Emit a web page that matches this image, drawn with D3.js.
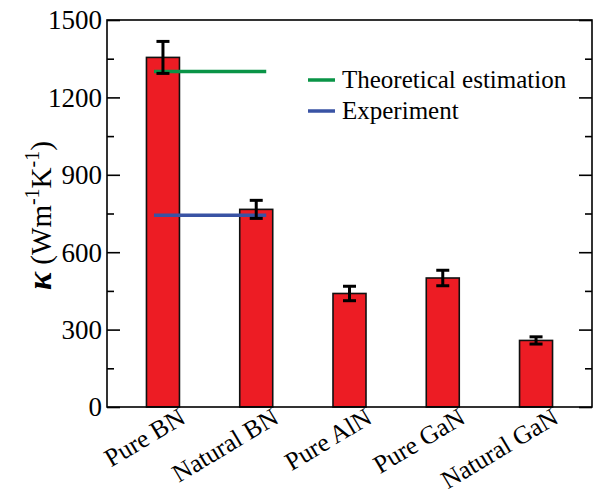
<!DOCTYPE html>
<html><head><meta charset="utf-8">
<script src="https://cdn.jsdelivr.net/npm/d3@7"></script>
<style>body{margin:0;background:#fff}svg{display:block}</style>
</head><body>
<svg id="c" width="598" height="497"></svg>
<script>
const categories = ["Pure BN","Natural BN","Pure AlN","Pure GaN","Natural GaN"];
const kappa = [1355, 766, 440, 500, 258];
const kappaErr = [62, 35, 28, 30, 14];
const theoretical = 1300;
const experiment = 743;
const yTicks = [0,300,600,900,1200,1500];
const yMinorTicks = [150,450,750,1050,1350];
const legendLabels = ["Theoretical estimation","Experiment"];

const font = "Liberation Serif, Times New Roman, serif";
const svg = d3.select("#c");
const L=107, R=592, T=20, B=407;
const x = d3.scalePoint().domain(categories).range([L,R]).padding(0.6);
const y = d3.scaleLinear().domain([0,1500]).range([B,T]);
const bw = 33;

// bars
svg.selectAll("rect.bar").data(categories).enter().append("rect")
  .attr("x", d=>x(d)-bw/2).attr("width", bw)
  .attr("y", (d,i)=>y(kappa[i])).attr("height",(d,i)=>y(0)-y(kappa[i]))
  .attr("fill","#ED1C24").attr("stroke","#111").attr("stroke-width",1.6);

// reference lines
const x0 = x(categories[0])-9, x1 = x(categories[1])+10;
svg.append("line").attr("x1",x0).attr("x2",x1).attr("y1",y(theoretical)).attr("y2",y(theoretical))
  .attr("stroke","#0A9447").attr("stroke-width",3.5);
svg.append("line").attr("x1",x0).attr("x2",x1).attr("y1",y(experiment)).attr("y2",y(experiment))
  .attr("stroke","#3953A4").attr("stroke-width",3.5);

// error bars
const eg = svg.append("g").attr("stroke","#000").attr("stroke-width",3);
categories.forEach((c,i)=>{
  const cx = x(c), hi=y(kappa[i]+kappaErr[i]), lo=y(kappa[i]-kappaErr[i]);
  eg.append("line").attr("x1",cx).attr("x2",cx).attr("y1",hi).attr("y2",lo);
  eg.append("line").attr("x1",cx-6.5).attr("x2",cx+6.5).attr("y1",hi).attr("y2",hi);
  eg.append("line").attr("x1",cx-6.5).attr("x2",cx+6.5).attr("y1",lo).attr("y2",lo);
});

// frame
svg.append("rect").attr("x",L).attr("y",T).attr("width",R-L).attr("height",B-T)
  .attr("fill","none").attr("stroke","#000").attr("stroke-width",1.6);

// y axis (ticks inward)
const gl = svg.append("g").attr("transform",`translate(${L},0)`).call(d3.axisRight(y).tickValues(yTicks).tickSize(13).tickFormat(""));
const gl2 = svg.append("g").attr("transform",`translate(${L},0)`).call(d3.axisRight(y).tickValues(yMinorTicks).tickSize(7).tickFormat(""));
const gr = svg.append("g").attr("transform",`translate(${R},0)`).call(d3.axisLeft(y).tickValues(yTicks).tickSize(13).tickFormat(""));
const gr2 = svg.append("g").attr("transform",`translate(${R},0)`).call(d3.axisLeft(y).tickValues(yMinorTicks).tickSize(7).tickFormat(""));
[gl,gl2,gr,gr2].forEach(g=>{g.select(".domain").remove();g.selectAll("line").attr("stroke","#000").attr("stroke-width",1.6);});

// y tick labels
svg.append("g").selectAll("text").data(yTicks).enter().append("text")
  .attr("x",L-5).attr("y",d=>y(d)).attr("dy","0.35em").attr("text-anchor","end")
  .attr("font-family",font).attr("font-size",27).text(d=>d);

// x labels
svg.append("g").selectAll("text").data(categories).enter().append("text")
  .attr("transform",d=>`translate(${x(d)+24},422) rotate(-31)`)
  .attr("text-anchor","end").attr("font-family",font).attr("font-size",25.5).text(d=>d);

// y label
const yl = svg.append("text").attr("transform",`translate(51,${(T+B)/2+2}) rotate(-90)`)
  .attr("text-anchor","middle").attr("font-family",font).attr("font-size",29);
yl.append("tspan").attr("font-style","italic").attr("font-weight","bold").attr("font-size",34).text("κ");
yl.append("tspan").text(" (Wm");
yl.append("tspan").attr("font-size",20).attr("dy",-12).text("-1");
yl.append("tspan").attr("dy",12).text("K");
yl.append("tspan").attr("font-size",20).attr("dy",-12).text("-1");
yl.append("tspan").attr("dy",12).text(")");

// legend
const legColors = ["#0A9447","#3953A4"];
legendLabels.forEach((t,i)=>{
  const ly = 80 + i*31;
  svg.append("line").attr("x1",308).attr("x2",335).attr("y1",ly).attr("y2",ly)
    .attr("stroke",legColors[i]).attr("stroke-width",3.5);
  svg.append("text").attr("x",342).attr("y",ly).attr("dy","0.33em")
    .attr("font-family",font).attr("font-size",25).text(t);
});
</script>
</body></html>
